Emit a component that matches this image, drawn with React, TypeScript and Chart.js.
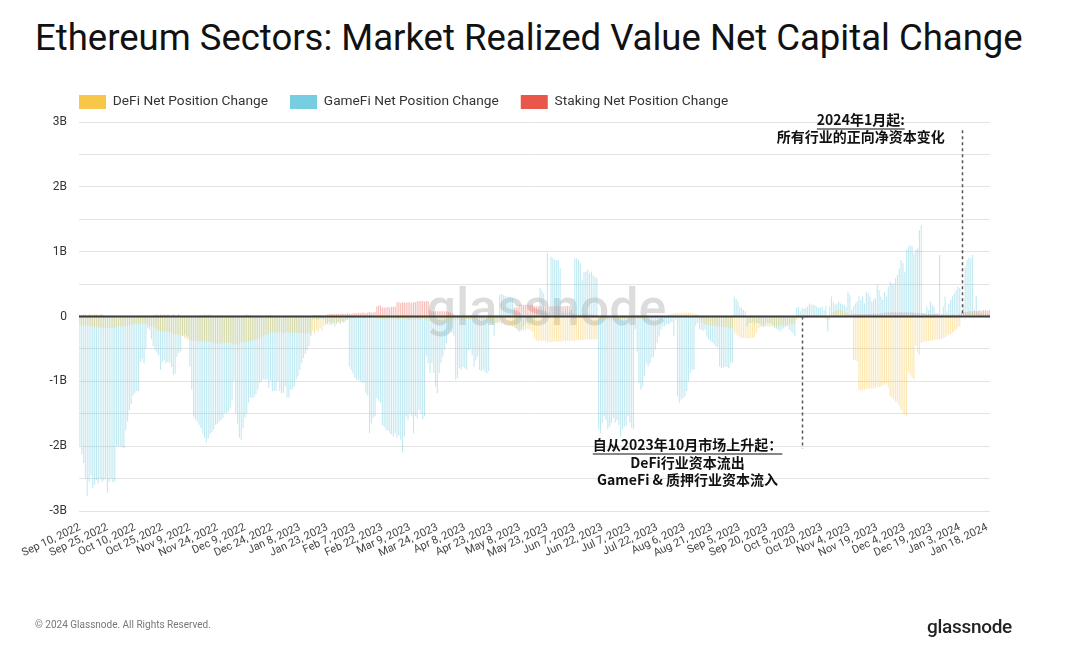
import React, { useEffect, useRef } from "react";
import { Chart, registerables } from "chart.js";

Chart.register(...registerables);

// ---------- DATA (values in billions USD, daily from Sep 10, 2022) ----------
const START_YEAR = 2022;
const START_MONTH = 8; // September (0-based)
const START_DAY = 10;
const DAY_COUNT = 497;
const LABEL_EVERY = 15;
const MONTHS = ["Jan", "Feb", "Mar", "Apr", "May", "Jun", "Jul", "Aug", "Sep", "Oct", "Nov", "Dec"];

const SERIES_NAMES = ["DeFi Net Position Change", "GameFi Net Position Change", "Staking Net Position Change"];
const SOLID_COLORS = ["#F8C648", "#76CEE2", "#E8574A"];
const BAR_COLORS = ["rgba(248,198,72,0.42)", "rgba(118,206,226,0.45)", "rgba(232,87,74,0.4)"];

const Y_TICKS = [-3, -2, -1, 0, 1, 2, 3];

const defiValues = [
  -0.13,-0.14,-0.13,-0.15,-0.14,-0.13,-0.15,-0.16,-0.17,-0.16,
  -0.17,-0.18,-0.17,-0.18,-0.17,-0.18,-0.18,-0.17,-0.18,-0.18,
  -0.16,-0.15,-0.15,-0.16,-0.15,-0.14,-0.15,-0.14,-0.13,-0.12,
  -0.12,-0.11,-0.12,-0.11,-0.10,-0.11,-0.12,-0.15,-0.14,-0.15,
  -0.16,-0.18,-0.20,-0.22,-0.23,-0.22,-0.24,-0.23,-0.24,-0.25,
  -0.26,-0.27,-0.28,-0.27,-0.29,-0.28,-0.30,-0.33,-0.34,-0.36,
  -0.36,-0.37,-0.38,-0.37,-0.38,-0.38,-0.37,-0.38,-0.38,-0.39,
  -0.38,-0.39,-0.40,-0.41,-0.43,-0.42,-0.41,-0.42,-0.40,-0.41,
  -0.40,-0.41,-0.40,-0.42,-0.43,-0.42,-0.43,-0.41,-0.40,-0.39,
  -0.40,-0.39,-0.38,-0.39,-0.37,-0.36,-0.35,-0.34,-0.33,-0.32,
  -0.30,-0.29,-0.28,-0.27,-0.25,-0.24,-0.25,-0.24,-0.25,-0.24,
  -0.25,-0.26,-0.25,-0.24,-0.25,-0.26,-0.25,-0.24,-0.25,-0.26,
  -0.25,-0.26,-0.25,-0.27,-0.26,-0.25,-0.27,-0.22,-0.26,-0.20,
  -0.24,-0.18,-0.22,-0.15,-0.13,-0.12,-0.13,-0.10,-0.12,-0.09,
  -0.10,-0.08,-0.09,-0.07,-0.08,-0.06,-0.05,-0.04,-0.03,-0.03,
  -0.03,-0.02,-0.03,-0.02,-0.02,-0.03,-0.02,-0.02,-0.03,-0.02,
  -0.02,-0.02,-0.03,-0.03,-0.04,-0.04,-0.05,-0.04,-0.05,-0.04,
  -0.04,-0.05,-0.04,-0.05,-0.05,-0.04,-0.05,-0.05,-0.04,-0.05,
  -0.05,-0.04,-0.05,-0.05,-0.04,-0.05,-0.05,-0.04,-0.05,-0.05,
  -0.06,-0.07,-0.08,-0.07,-0.08,-0.09,-0.08,-0.07,-0.08,-0.07,
  -0.06,-0.07,-0.06,-0.05,-0.05,-0.06,-0.05,-0.05,-0.06,-0.05,
  -0.05,-0.04,-0.05,-0.05,-0.04,-0.05,-0.05,-0.04,-0.05,-0.05,
  -0.06,-0.05,-0.06,-0.05,-0.06,-0.08,-0.10,-0.09,-0.11,-0.10,
  -0.12,-0.10,-0.13,-0.12,-0.14,-0.13,-0.15,-0.17,-0.18,-0.20,
  -0.21,-0.20,-0.22,-0.21,-0.19,-0.20,-0.21,-0.24,-0.33,-0.37,
  -0.38,-0.37,-0.38,-0.37,-0.38,-0.40,-0.39,-0.40,-0.39,-0.38,
  -0.39,-0.38,-0.39,-0.38,-0.37,-0.38,-0.37,-0.38,-0.37,-0.38,
  -0.37,-0.36,-0.37,-0.36,-0.37,-0.36,-0.35,-0.36,-0.35,-0.36,
  -0.35,-0.36,-0.35,-0.06,-0.05,-0.06,-0.05,-0.05,-0.06,-0.05,
  -0.05,-0.04,-0.05,-0.05,-0.04,-0.05,-0.04,-0.05,-0.04,-0.04,
  -0.04,-0.05,-0.04,-0.04,-0.03,-0.04,-0.03,-0.04,-0.03,-0.03,
  -0.03,-0.02,-0.03,-0.02,-0.02,-0.03,-0.02,-0.01,-0.02,-0.01,
  0.01,0.02,0.03,0.04,0.05,0.05,0.06,0.05,0.06,0.05,
  0.06,0.05,0.06,0.05,0.05,0.04,0.04,0.03,-0.05,-0.08,
  -0.10,-0.12,-0.13,-0.14,-0.13,-0.15,-0.14,-0.15,-0.16,-0.15,
  -0.16,-0.17,-0.16,-0.17,-0.18,-0.18,-0.17,-0.25,-0.28,-0.30,
  -0.32,-0.33,-0.33,-0.34,-0.33,-0.34,-0.33,-0.33,-0.32,-0.25,
  -0.18,-0.17,-0.16,-0.17,-0.16,-0.15,-0.16,-0.15,-0.14,-0.15,
  -0.14,-0.15,-0.14,-0.13,-0.14,-0.13,-0.12,-0.13,-0.12,-0.11,
  -0.10,-0.05,-0.03,-0.02,-0.02,-0.03,-0.02,-0.02,-0.01,-0.02,
  -0.02,-0.01,-0.02,-0.01,-0.02,-0.03,-0.03,-0.05,-0.06,-0.05,
  0.03,0.06,0.08,0.09,0.10,0.10,0.09,0.08,0.06,0.05,
  0.03,-0.02,-0.67,-0.67,-0.69,-1.13,-1.15,-1.13,-1.13,-1.12,
  -1.12,-1.11,-1.11,-1.11,-1.10,-1.08,-1.09,-1.08,-1.06,-1.05,
  -1.03,-1.10,-1.23,-1.26,-1.28,-1.31,-1.33,-1.38,-1.44,-1.48,
  -1.51,-1.54,-0.85,-0.90,-0.95,-0.97,-0.45,-0.56,-0.59,-0.41,
  -0.39,-0.38,-0.38,-0.38,-0.37,-0.37,-0.36,-0.36,-0.36,-0.35,
  -0.35,-0.33,-0.32,-0.30,-0.28,-0.27,-0.25,-0.23,-0.20,-0.17,
  -0.15,0.02,0.03,0.04,0.03,0.04,0.05,0.04,0.05,0.04,
  0.05,0.04,0.05,0.04,0.05,0.05,0.04,
];

const gamefiValues = [
  -2.00,-2.13,-2.26,-2.50,-2.77,-2.55,-2.45,-2.65,-2.60,-2.52,
  -2.58,-2.50,-2.55,-2.53,-2.50,-2.72,-2.55,-2.50,-2.56,-2.54,
  -2.00,-2.00,-2.00,-2.02,-2.03,-1.75,-1.62,-1.45,-1.35,-1.22,
  -1.18,-1.15,-1.15,-0.70,-0.66,-0.72,-0.50,-0.18,-0.20,-0.35,
  -0.46,-0.52,-0.56,-0.60,-0.82,-0.70,-0.67,-0.72,-0.70,-0.72,
  -0.78,-0.90,-0.88,-0.62,-0.56,-0.54,-0.30,-0.28,-0.30,-0.32,
  -0.77,-1.13,-1.54,-1.59,-1.62,-1.67,-1.72,-1.80,-1.87,-1.94,
  -1.88,-1.82,-1.78,-1.74,-1.67,-1.66,-1.62,-1.60,-1.56,-1.49,
  -1.49,-1.46,-1.41,-1.30,-1.00,-1.49,-1.65,-1.87,-1.90,-1.72,
  -1.56,-1.50,-1.33,-1.25,-1.26,-1.24,-1.20,-1.13,-1.03,-1.00,
  -0.97,-0.98,-0.97,-1.10,-0.99,-1.15,-1.14,-1.15,-1.00,-1.15,
  -1.18,-1.18,-1.08,-1.25,-1.25,-1.13,-1.12,-1.08,-0.97,-0.92,
  -0.82,-0.72,-0.64,-0.58,-0.52,-0.46,-0.30,-0.05,-0.04,-0.06,
  -0.05,-0.04,-0.03,-0.05,-0.10,-0.12,-0.08,-0.13,-0.10,-0.15,
  -0.11,-0.09,-0.12,-0.08,-0.10,-0.06,-0.05,-0.77,-0.82,-0.88,
  -0.95,-0.97,-0.98,-1.00,-1.02,-1.02,-1.18,-1.22,-1.80,-1.65,
  -1.56,-1.54,-1.26,-1.30,-1.33,-1.68,-1.70,-1.75,-1.76,-1.80,
  -1.82,-1.85,-1.80,-1.87,-1.83,-1.90,-2.10,-1.85,-1.54,-1.59,
  -1.50,-1.54,-1.80,-1.54,-1.57,-1.44,-1.50,-1.58,-1.54,-0.60,
  -0.72,-0.87,-0.72,-0.87,-1.08,-1.18,-0.87,-0.72,-0.62,-0.51,
  -0.41,-0.26,-0.21,-0.25,-0.30,-0.97,-0.95,-0.80,-0.82,-0.78,
  -0.80,-0.82,-0.52,-0.50,-0.60,-0.77,-0.68,-0.62,-0.82,-0.84,
  -0.82,-0.85,-0.88,-0.84,-0.10,-0.12,-0.30,-0.10,-0.08,0.33,
  0.35,0.33,0.32,0.30,0.31,0.30,0.28,-0.12,-0.18,-0.22,
  -0.24,-0.20,-0.15,-0.12,-0.10,-0.14,-0.08,-0.10,-0.06,0.05,
  0.08,0.44,0.40,0.36,0.10,0.98,0.06,0.92,0.90,0.88,
  0.87,0.87,0.75,0.08,0.06,0.10,0.05,0.07,0.04,0.06,
  0.90,0.90,0.87,0.82,0.56,0.69,0.69,0.72,0.67,0.69,
  0.64,0.61,0.59,-1.74,-1.80,-1.64,-1.54,-1.60,-1.74,-1.70,
  -1.64,-1.56,-1.64,-1.60,-1.67,-1.85,-1.74,-1.70,-1.69,-1.54,
  -1.64,-1.72,-1.74,-0.20,-0.54,-1.03,-1.13,-1.08,-0.92,-0.72,
  -0.77,-0.72,-0.64,-0.62,-0.51,-0.41,-0.31,-0.20,-0.15,-0.15,
  -0.12,-0.12,-0.10,-0.08,-0.30,-0.05,-1.23,-1.33,-1.28,-1.26,
  -1.23,-1.15,-1.00,-0.87,-0.82,-0.82,-0.15,-0.10,-0.20,-0.20,
  -0.22,-0.20,-0.31,-0.35,-0.38,-0.40,-0.43,-0.46,-0.48,-0.77,
  -0.80,-0.79,-0.77,-0.78,-0.80,-0.72,-0.70,0.31,0.27,0.23,
  0.15,0.13,0.10,0.08,-0.15,-0.10,-0.10,-0.08,-0.12,-0.10,
  -0.10,-0.12,-0.14,-0.15,-0.12,-0.10,-0.11,-0.10,-0.15,-0.18,
  -0.19,-0.20,-0.23,-0.20,-0.18,-0.16,-0.15,-0.20,-0.23,-0.26,
  -0.30,0.13,0.15,0.08,0.13,0.12,0.14,0.15,0.20,0.18,
  0.18,0.17,0.15,0.13,0.14,0.15,0.10,0.16,-0.23,0.15,
  0.31,0.22,0.18,0.20,0.23,0.20,0.19,0.18,0.15,0.38,
  0.33,0.10,0.15,0.20,0.23,0.31,0.26,0.31,0.20,0.38,
  0.36,0.31,0.23,0.26,0.28,0.49,0.41,0.31,0.26,0.38,
  0.31,0.46,0.54,0.51,0.51,0.59,0.64,0.74,0.87,0.82,
  0.69,1.03,1.08,1.10,1.08,0.97,1.03,1.05,1.33,1.41,
  0.05,0.05,0.15,0.10,0.23,0.18,0.15,0.05,0.05,0.95,
  0.03,0.15,0.31,0.08,0.20,0.26,0.31,0.36,0.41,0.46,
  0.44,0.05,0.20,0.77,0.87,0.90,0.90,0.95,0.10,0.32,
  0.08,0.05,0.06,0.04,0.05,0.03,0.04,
];

const stakingValues = [
  0.03,0.02,0.03,0.03,0.02,0.03,0.03,0.02,0.03,0.03,
  0.02,0.03,0.03,0.02,0.01,0.01,0.01,0.01,0.01,0.01,
  0.01,0.01,0.01,0.01,0.01,0.01,0.01,0.01,0.01,0.01,
  0.01,0.01,0.01,0.01,0.01,0.01,0.01,0.01,0.01,0.01,
  0.02,0.02,0.03,0.02,0.03,0.02,0.03,0.02,0.03,0.02,
  0.02,0.03,0.02,0.02,0.03,0.01,0.01,0.01,0.01,0.01,
  0.01,0.01,0.01,0.01,0.01,0.01,0.02,0.02,0.03,0.02,
  0.03,0.02,0.02,0.01,0.01,0.01,0.01,0.01,0.01,0.01,
  0.01,0.01,0.01,0.01,0.01,0.01,0.01,0.01,0.01,0.02,
  0.02,0.03,0.02,0.02,0.01,0.01,0.01,0.01,0.01,0.01,
  0.01,0.01,0.01,0.02,0.02,0.01,0.01,0.01,0.01,0.01,
  0.01,0.01,0.01,0.01,0.01,0.01,0.01,0.01,0.01,0.01,
  0.01,0.01,0.01,0.01,0.01,0.01,0.01,0.02,0.02,0.02,
  0.02,0.02,0.02,0.02,0.02,0.03,0.04,0.04,0.04,0.04,
  0.04,0.04,0.04,0.05,0.04,0.04,0.05,0.04,0.04,0.05,
  0.05,0.05,0.06,0.05,0.06,0.06,0.05,0.06,0.07,0.06,
  0.06,0.07,0.16,0.17,0.17,0.14,0.14,0.14,0.15,0.14,
  0.15,0.15,0.15,0.22,0.22,0.21,0.22,0.22,0.21,0.22,
  0.22,0.21,0.22,0.22,0.23,0.24,0.24,0.24,0.23,0.24,
  0.24,0.10,0.08,0.08,0.08,0.08,0.08,0.08,0.08,0.08,
  0.08,0.07,0.06,0.05,0.03,0.02,0.02,0.02,0.02,0.02,
  0.02,0.02,0.02,0.02,0.02,0.02,0.02,0.02,0.02,0.02,
  0.02,0.02,0.02,0.02,0.02,0.02,0.02,0.02,0.02,0.02,
  0.02,0.02,0.02,0.02,0.02,0.02,0.02,0.14,0.14,0.16,
  0.18,0.18,0.18,0.18,0.18,0.18,0.18,0.18,0.16,0.16,
  0.16,0.16,0.16,0.16,0.16,0.16,0.16,0.16,0.16,0.16,
  0.16,0.16,0.16,0.16,0.16,0.16,0.16,0.16,0.10,0.03,
  0.03,0.03,0.03,0.03,0.03,0.03,0.03,0.03,0.03,0.03,
  0.03,0.02,0.02,0.01,0.01,0.01,0.01,0.01,0.01,0.01,
  0.01,0.01,0.01,0.01,0.01,0.01,0.01,0.01,0.01,0.01,
  0.01,0.01,0.02,0.01,0.01,0.01,0.01,0.01,0.01,0.01,
  0.01,0.01,0.01,0.01,0.01,0.01,0.01,0.01,0.01,0.01,
  0.01,0.01,0.01,0.01,0.01,0.02,0.01,0.01,0.01,0.01,
  0.01,0.01,0.01,0.01,0.01,0.01,0.01,0.01,0.01,0.01,
  0.01,0.01,0.01,0.01,0.01,0.01,0.01,0.01,0.01,0.01,
  0.01,0.01,0.01,0.01,0.01,0.01,0.01,0.01,0.01,0.01,
  0.01,0.01,0.01,0.01,0.01,0.01,0.01,0.01,0.01,0.01,
  0.01,0.01,0.01,0.01,0.01,0.01,0.01,0.01,0.01,0.01,
  0.01,0.01,0.01,0.01,0.01,0.01,0.01,0.01,0.01,0.01,
  0.01,0.01,0.01,0.01,0.01,0.01,0.01,0.01,0.01,0.01,
  0.01,0.01,0.01,0.01,0.01,0.01,0.01,0.01,0.01,0.01,
  0.01,0.01,0.01,0.01,0.01,0.01,0.01,0.01,0.01,0.01,
  0.02,0.03,0.04,0.04,0.04,0.04,0.04,0.04,0.04,0.04,
  0.04,0.04,0.04,0.05,0.04,0.05,0.04,0.05,0.05,0.06,
  0.06,0.06,0.06,0.07,0.06,0.07,0.06,0.06,0.07,0.06,
  0.06,0.07,0.06,0.06,0.06,0.06,0.05,0.06,0.05,0.05,
  0.05,0.04,0.04,0.04,0.04,0.04,0.04,0.04,0.04,0.03,
  0.03,0.03,0.03,0.03,0.03,0.03,0.03,0.03,0.03,0.03,
  0.04,0.06,0.06,0.07,0.07,0.08,0.08,0.08,0.09,0.08,
  0.09,0.10,0.09,0.10,0.10,0.09,0.10,
];

// annotations (day index, value in B)
const OCT_LINE = { day: 394, from: 0, to: -2.04 };
const JAN_LINE = { day: 481, from: 0.05, to: 2.9 };
const TOP_NOTE = ["2024年1月起:", "所有行业的正向净资本变化"];
const BOTTOM_NOTE = ["自从2023年10月市场上升起：", "DeFi行业资本流出", "GameFi & 质押行业资本流入"];

const TITLE = "Ethereum Sectors: Market Realized Value Net Capital Change";
const COPYRIGHT = "© 2024 Glassnode. All Rights Reserved.";
const BRAND = "glassnode";

function buildDateLabels(): string[] {
  const out: string[] = [];
  for (let i = 0; i < DAY_COUNT; i++) {
    const d = new Date(Date.UTC(START_YEAR, START_MONTH, START_DAY + i));
    out.push(`${MONTHS[d.getUTCMonth()]} ${d.getUTCDate()}, ${d.getUTCFullYear()}`);
  }
  return out;
}

const overlayPlugin = {
  id: "overlay",
  afterLayout(chart: any) {
    const lg = chart.legend;
    if (lg) {
      lg.left += 22;
      lg.right += 22;
      lg.top -= 3;
      lg.bottom -= 3;
    }
  },
  beforeDatasetsDraw(chart: any) {
    const { ctx, chartArea } = chart;
    ctx.save();
    ctx.font = "500 52px Roboto";
    ctx.fillStyle = "rgba(150,150,150,0.33)";
    ctx.textAlign = "center";
    ctx.textBaseline = "middle";
    ctx.fillText(BRAND, (chartArea.left + chartArea.right) / 2 + 12, 312);
    ctx.restore();
  },
  afterDatasetsDraw(chart: any) {
    const { ctx, chartArea } = chart;
    const xs = chart.scales.x;
    const ys = chart.scales.y;
    ctx.save();
    // zero line
    ctx.strokeStyle = "#3a3a3a";
    ctx.lineWidth = 2;
    ctx.beginPath();
    ctx.moveTo(chartArea.left, ys.getPixelForValue(0));
    ctx.lineTo(chartArea.right, ys.getPixelForValue(0));
    ctx.stroke();

    // dashed lines
    ctx.strokeStyle = "#555";
    ctx.lineWidth = 1.5;
    ctx.setLineDash([3, 3]);
    for (const ln of [OCT_LINE, JAN_LINE]) {
      const x = Math.round(xs.getPixelForValue(ln.day)) + 0.5;
      ctx.beginPath();
      ctx.moveTo(x, ys.getPixelForValue(ln.from));
      ctx.lineTo(x, ys.getPixelForValue(ln.to));
      ctx.stroke();
    }
    ctx.setLineDash([]);

    // notes
    ctx.font = "bold 14px 'Noto Sans CJK SC', sans-serif";
    ctx.fillStyle = "#111";
    ctx.textAlign = "center";
    ctx.textBaseline = "middle";
    const drawLines = (lines: string[], cx: number, y0: number, gap: number) => {
      lines.forEach((t, i) => {
        const y = y0 + i * gap;
        ctx.fillText(t, cx, y);
        if (i === 0) {
          const w = ctx.measureText(t).width;
          ctx.lineWidth = 1.2;
          ctx.strokeStyle = "#111";
          ctx.beginPath();
          ctx.moveTo(cx - w / 2, y + 9);
          ctx.lineTo(cx + w / 2, y + 9);
          ctx.stroke();
        }
      });
    };
    drawLines(TOP_NOTE, xs.getPixelForValue(426), 120, 17);
    drawLines(BOTTOM_NOTE, xs.getPixelForValue(331.5), 445, 17.5);
    ctx.restore();
  },
};

export default function App() {
  const ref = useRef<HTMLCanvasElement | null>(null);

  useEffect(() => {
    if (!ref.current) return;
    const labels = buildDateLabels();
    const seriesValues = [defiValues, gamefiValues, stakingValues];
    const chart = new Chart(ref.current, {
      type: "bar",
      data: {
        labels,
        datasets: seriesValues.map((vals, i) => ({
          label: SERIES_NAMES[i],
          data: vals,
          backgroundColor: BAR_COLORS[i],
          borderWidth: 0,
          grouped: false,
          barPercentage: 0.6,
          categoryPercentage: 1.0,
        })),
      },
      options: {
        responsive: false,
        animation: false,
        devicePixelRatio: 1,
        layout: { padding: { left: 35, right: 87, top: 76, bottom: 79 } },
        plugins: {
          legend: {
            display: true,
            position: "top",
            align: "start",
            labels: {
              boxWidth: 27,
              boxHeight: 14,
              padding: 22,
              color: "#333",
              font: { family: "Roboto", size: 13.7 },
              generateLabels: (c: any) =>
                c.data.datasets.map((ds: any, i: number) => ({
                  text: ds.label,
                  fillStyle: SOLID_COLORS[i],
                  strokeStyle: SOLID_COLORS[i],
                  lineWidth: 0,
                  hidden: false,
                  datasetIndex: i,
                  fontColor: "#333",
                })),
            },
          },
          tooltip: { enabled: false },
          title: { display: false },
        },
        scales: {
          x: {
            grid: { display: false },
            border: { display: false },
            ticks: {
              autoSkip: false,
              minRotation: 25,
              maxRotation: 25,
              padding: 2,
              color: "#444",
              font: { family: "Roboto", size: 11 },
              callback: function (this: any, value: any, index: number) {
                return index % LABEL_EVERY === 0 ? this.getLabelForValue(value) : "";
              },
            },
            afterFit: (s: any) => {
              s.height = 60;
            },
          },
          y: {
            min: -3,
            max: 3,
            border: { display: false },
            grid: { color: "#e3e3e3", lineWidth: 1, drawTicks: false },
            ticks: {
              stepSize: 0.5,
              padding: 12,
              color: "#333",
              font: { family: "Roboto", size: 12 },
              callback: (v: any) => {
                const n = Number(v);
                if (!Y_TICKS.includes(n)) return "";
                return n === 0 ? "0" : `${n}B`;
              },
            },
            afterFit: (s: any) => {
              s.width = 44;
            },
          },
        },
      },
      plugins: [overlayPlugin],
    });
    return () => chart.destroy();
  }, []);

  return (
    <div style={{ position: "absolute", left: 0, top: 0, width: 1077, height: 650, background: "#fff", overflow: "hidden" }}>
      <div
        style={{
          position: "absolute",
          left: 35,
          top: 14,
          fontFamily: "Roboto, sans-serif",
          fontSize: 36.5,
          color: "#111",
          whiteSpace: "nowrap",
          lineHeight: "48px",
        }}
      >
        {TITLE}
      </div>
      <canvas ref={ref} width={1077} height={650} style={{ position: "absolute", left: 0, top: 0, width: 1077, height: 650 }} />
      <div
        style={{
          position: "absolute",
          left: 35,
          top: 619,
          fontFamily: "Roboto, sans-serif",
          fontSize: 10,
          color: "#777",
          whiteSpace: "nowrap",
        }}
      >
        {COPYRIGHT}
      </div>
      <div
        style={{
          position: "absolute",
          left: 927,
          top: 615,
          fontFamily: "Roboto, sans-serif",
          fontSize: 19,
          fontWeight: 500,
          color: "#222",
          whiteSpace: "nowrap",
          letterSpacing: -0.3,
        }}
      >
        {BRAND}
      </div>
    </div>
  );
}
